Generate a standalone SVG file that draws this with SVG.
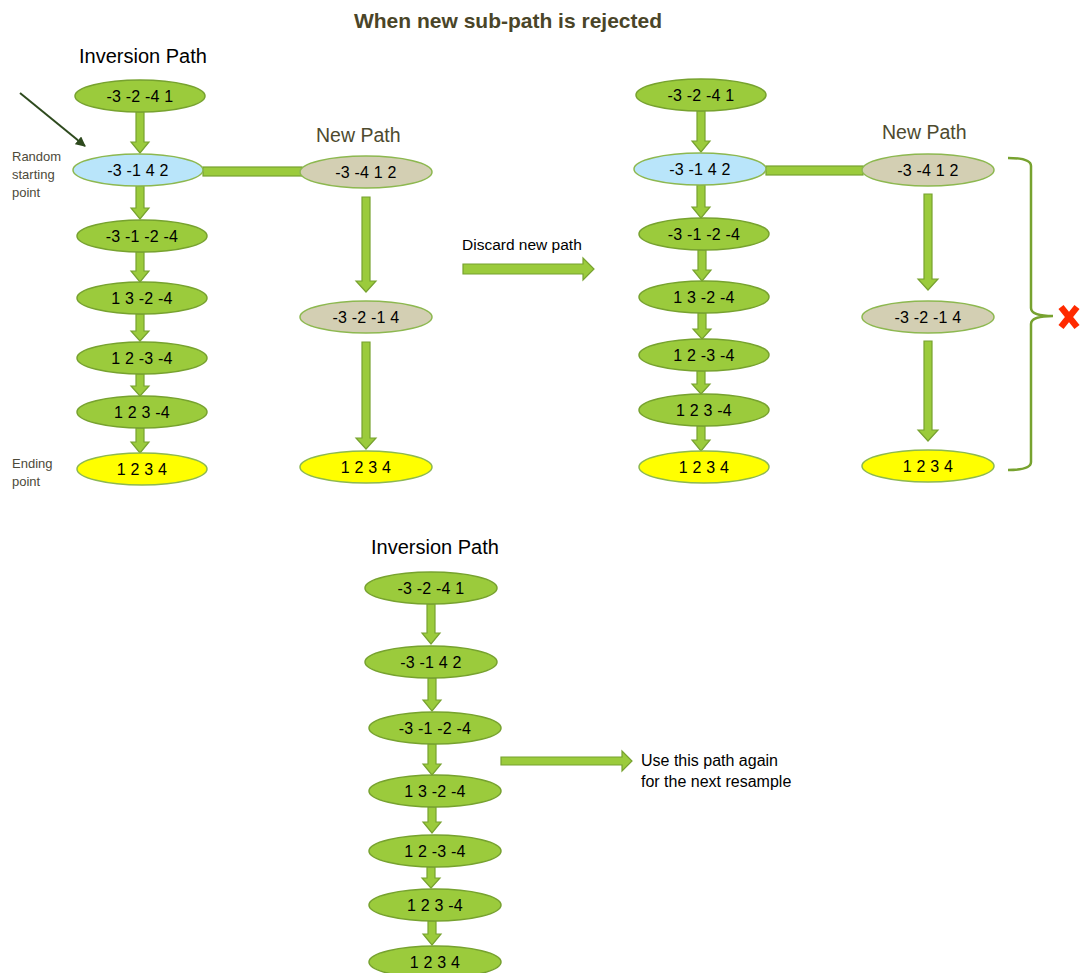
<svg xmlns="http://www.w3.org/2000/svg" width="1080" height="973" viewBox="0 0 1080 973">
<style>
text{font-family:"Liberation Sans",Arial,sans-serif}
.g{fill:#9BCB3C;stroke:#77A22F;stroke-width:1.5}
.b{fill:#B9E5FA;stroke:#8DB850;stroke-width:1.5}
.s{fill:#D3CFB3;stroke:#8DB850;stroke-width:1.5}
.y{fill:#FFFF00;stroke:#8DB850;stroke-width:1.5}
.lbl{font-size:16px;fill:#000;text-anchor:middle;letter-spacing:0.2px}
.arr{fill:#9BCB3C;stroke:#77A22F;stroke-width:1.2}
.hd{font-size:20px;fill:#000}
.np{font-size:19.5px;fill:#4D4A2E}
.sm{font-size:13px;fill:#4D4A3A}
.tx{font-size:15.5px;fill:#000}
</style>
<defs>
<marker id="dk" viewBox="0 0 10 10" refX="9" refY="5" markerWidth="5" markerHeight="5" orient="auto"><path d="M0,0 L10,5 L0,10 z" fill="#2E4A1E"/></marker>
</defs>
<rect width="1080" height="973" fill="#fff"/>
<text x="508" y="28" text-anchor="middle" style="font-size:21px;font-weight:bold;fill:#4A4528">When new sub-path is rejected</text>

<text class="hd" x="79" y="63">Inversion Path</text>
<text class="np" x="316" y="142">New Path</text>
<text class="np" x="882" y="139">New Path</text>
<text class="hd" x="371" y="554">Inversion Path</text>
<text class="sm" x="12" y="161">Random</text>
<text class="sm" x="12" y="179">starting</text>
<text class="sm" x="12" y="197">point</text>
<text class="sm" x="12" y="468">Ending</text>
<text class="sm" x="12" y="486">point</text>
<text class="tx" x="462" y="250">Discard new path</text>
<text class="tx" x="641" y="766" style="font-size:16px">Use this path again</text>
<text class="tx" x="641" y="787" style="font-size:16px">for the next resample</text>

<g id="connectors">
<line x1="20" y1="93" x2="85" y2="146" stroke="#2E4A1E" stroke-width="2" marker-end="url(#dk)"/>
<path class="arr" d="M136,112 H144 V142 H149 L140,153 L131,142 H136 Z"/>
<path class="arr" d="M136,186 H144 V208 H149 L140,219 L131,208 H136 Z"/>
<path class="arr" d="M136,252 H144 V271 H149 L140,282 L131,271 H136 Z"/>
<path class="arr" d="M136,314 H144 V331 H149 L140,341 L131,331 H136 Z"/>
<path class="arr" d="M136,374 H144 V386 H149 L140,396 L131,386 H136 Z"/>
<path class="arr" d="M136,428 H144 V442 H149 L140,453 L131,442 H136 Z"/>
<rect class="arr" x="203" y="167" width="99" height="9"/>
<path class="arr" d="M362,197 H370 V281 H376 L366,292 L356,281 H362 Z"/>
<path class="arr" d="M362,342 H370 V438 H376 L366,449 L356,438 H362 Z"/>
<path class="arr" d="M463,264 H583 V258 L594,269 L583,280 V274 H463 Z"/>
<path class="arr" d="M697,111 H705 V141 H710 L701,152 L692,141 H697 Z"/>
<path class="arr" d="M697,185 H705 V207 H710 L701,218 L692,207 H697 Z"/>
<path class="arr" d="M698,250 H706 V270 H711 L702,281 L693,270 H698 Z"/>
<path class="arr" d="M698,313 H706 V329 H711 L702,339 L693,329 H698 Z"/>
<path class="arr" d="M697,371 H705 V384 H710 L701,394 L692,384 H697 Z"/>
<path class="arr" d="M697,426 H705 V440 H710 L701,451 L692,440 H697 Z"/>
<rect class="arr" x="766" y="166" width="97" height="9"/>
<path class="arr" d="M924,194 H932 V279 H938 L928,290 L918,279 H924 Z"/>
<path class="arr" d="M924,341 H932 V430 H938 L928,441 L918,430 H924 Z"/>
<path d="M1008,158 Q1031,158 1031,166 V308 Q1031,316 1053,316 Q1031,316 1031,324 V462 Q1031,470 1008,470" fill="none" stroke="#77A22F" stroke-width="2.5"/>
<path class="arr" d="M427,604 H435 V633 H440 L431,644 L422,633 H427 Z"/>
<path class="arr" d="M428,678 H436 V700 H441 L432,711 L423,700 H428 Z"/>
<path class="arr" d="M428,744 H436 V764 H441 L432,775 L423,764 H428 Z"/>
<path class="arr" d="M428,807 H436 V822 H441 L432,833 L423,822 H428 Z"/>
<path class="arr" d="M427,867 H435 V878 H440 L431,888 L422,878 H427 Z"/>
<path class="arr" d="M428,921 H436 V934 H441 L432,945 L423,934 H428 Z"/>
<path class="arr" d="M501,757 H622 V751 L632,761 L622,771 V765 H501 Z"/>
</g>

<g id="reject-mark">
<path d="M1061,307 L1077,327 M1077,307 L1061,327" stroke="#FF2A00" stroke-width="6.5" stroke-linecap="butt"/>
</g>

<g id="L1"><ellipse class="g" cx="140" cy="96" rx="65" ry="16"/><text class="lbl" x="140" y="101.5">-3 -2 -4 1</text></g>
<g id="L2"><ellipse class="b" cx="138" cy="170" rx="65" ry="16"/><text class="lbl" x="138" y="175.5">-3 -1 4 2</text></g>
<g id="L3"><ellipse class="g" cx="142" cy="236" rx="65" ry="16"/><text class="lbl" x="142" y="241.5">-3 -1 -2 -4</text></g>
<g id="L4"><ellipse class="g" cx="142" cy="298" rx="65" ry="16"/><text class="lbl" x="142" y="303.5">1 3 -2 -4</text></g>
<g id="L5"><ellipse class="g" cx="142" cy="358" rx="65" ry="16"/><text class="lbl" x="142" y="363.5">1 2 -3 -4</text></g>
<g id="L6"><ellipse class="g" cx="142" cy="412" rx="65" ry="16"/><text class="lbl" x="142" y="417.5">1 2 3 -4</text></g>
<g id="L7"><ellipse class="y" cx="142" cy="469" rx="65" ry="16"/><text class="lbl" x="142" y="474.5">1 2 3 4</text></g>
<g id="N1"><ellipse class="s" cx="366" cy="172" rx="66" ry="16"/><text class="lbl" x="366" y="177.5">-3 -4 1 2</text></g>
<g id="N2"><ellipse class="s" cx="366" cy="317" rx="66" ry="16"/><text class="lbl" x="366" y="322.5">-3 -2 -1 4</text></g>
<g id="N3"><ellipse class="y" cx="366" cy="467" rx="66" ry="16"/><text class="lbl" x="366" y="472.5">1 2 3 4</text></g>

<g id="R1"><ellipse class="g" cx="701" cy="95" rx="65" ry="16"/><text class="lbl" x="701" y="100.5">-3 -2 -4 1</text></g>
<g id="R2"><ellipse class="b" cx="700" cy="169" rx="66" ry="16"/><text class="lbl" x="700" y="174.5">-3 -1 4 2</text></g>
<g id="R3"><ellipse class="g" cx="704" cy="234" rx="65" ry="16"/><text class="lbl" x="704" y="239.5">-3 -1 -2 -4</text></g>
<g id="R4"><ellipse class="g" cx="704" cy="297" rx="65" ry="16"/><text class="lbl" x="704" y="302.5">1 3 -2 -4</text></g>
<g id="R5"><ellipse class="g" cx="704" cy="355" rx="65" ry="16"/><text class="lbl" x="704" y="360.5">1 2 -3 -4</text></g>
<g id="R6"><ellipse class="g" cx="704" cy="410" rx="65" ry="16"/><text class="lbl" x="704" y="415.5">1 2 3 -4</text></g>
<g id="R7"><ellipse class="y" cx="704" cy="467" rx="65" ry="16"/><text class="lbl" x="704" y="472.5">1 2 3 4</text></g>
<g id="RN1"><ellipse class="s" cx="928" cy="170" rx="66" ry="16"/><text class="lbl" x="928" y="175.5">-3 -4 1 2</text></g>
<g id="RN2"><ellipse class="s" cx="928" cy="317" rx="66" ry="16"/><text class="lbl" x="928" y="322.5">-3 -2 -1 4</text></g>
<g id="RN3"><ellipse class="y" cx="928" cy="466" rx="66" ry="16"/><text class="lbl" x="928" y="471.5">1 2 3 4</text></g>

<g id="B1"><ellipse class="g" cx="431" cy="588" rx="66" ry="16"/><text class="lbl" x="431" y="593.5">-3 -2 -4 1</text></g>
<g id="B2"><ellipse class="g" cx="431" cy="662" rx="66" ry="16"/><text class="lbl" x="431" y="667.5">-3 -1 4 2</text></g>
<g id="B3"><ellipse class="g" cx="435" cy="728" rx="66" ry="16"/><text class="lbl" x="435" y="733.5">-3 -1 -2 -4</text></g>
<g id="B4"><ellipse class="g" cx="435" cy="791" rx="66" ry="16"/><text class="lbl" x="435" y="796.5">1 3 -2 -4</text></g>
<g id="B5"><ellipse class="g" cx="435" cy="851" rx="66" ry="16"/><text class="lbl" x="435" y="856.5">1 2 -3 -4</text></g>
<g id="B6"><ellipse class="g" cx="435" cy="905" rx="66" ry="16"/><text class="lbl" x="435" y="910.5">1 2 3 -4</text></g>
<g id="B7"><ellipse class="g" cx="435" cy="962" rx="66" ry="16"/><text class="lbl" x="435" y="967.5">1 2 3 4</text></g>
</svg>
